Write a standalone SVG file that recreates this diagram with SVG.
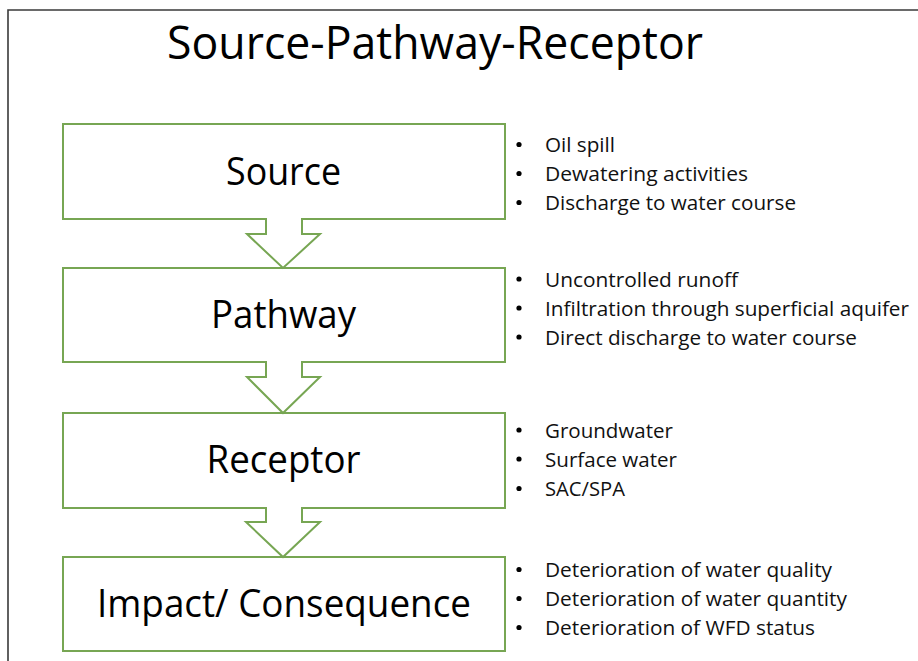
<svg xmlns="http://www.w3.org/2000/svg" width="918" height="661" viewBox="0 0 918 661">
<style>
.frame{fill:none;stroke:#3a3a3a;stroke-width:1.6}
.box{fill:#fff;stroke:#77a653;stroke-width:2}
.arrow{fill:#fff;stroke:#77a653;stroke-width:2;stroke-linejoin:miter}
.title{font-family:"Open Sans","Liberation Sans",sans-serif;font-size:45px;fill:#000}
.label{font-family:"Open Sans","Liberation Sans",sans-serif;font-size:38px;fill:#000;text-anchor:middle}
.item{font-family:"Open Sans","Liberation Sans",sans-serif;font-size:20px;fill:#111}
.dot{fill:#000}
</style>
<rect width="918" height="661" fill="#fff"/>
<path class="frame" d="M8,661 V10 H918"/>
<text class="title" x="167" y="59" textLength="536" lengthAdjust="spacingAndGlyphs">Source-Pathway-Receptor</text>

<g id="source">
<rect class="box" x="63" y="124" width="442" height="95"/>
<text class="label" x="283.5" y="185" textLength="115" lengthAdjust="spacingAndGlyphs">Source</text>
</g>
<g id="pathway">
<rect class="box" x="63" y="268" width="442" height="94"/>
<text class="label" x="283.5" y="328" textLength="145" lengthAdjust="spacingAndGlyphs">Pathway</text>
</g>
<g id="receptor">
<rect class="box" x="63" y="413" width="442" height="95"/>
<text class="label" x="283.5" y="473" textLength="154" lengthAdjust="spacingAndGlyphs">Receptor</text>
</g>
<g id="impact">
<rect class="box" x="63" y="557" width="442" height="94"/>
<text class="label" x="284" y="617" textLength="374" lengthAdjust="spacingAndGlyphs">Impact/ Consequence</text>
</g>

<g id="connectors">
<path class="arrow" d="M266,218 V234 H247 L283,268 L320,234 H302 V218"/>
<path class="arrow" d="M266,361 V377 H247 L283,413 L320,377 H302 V361"/>
<path class="arrow" d="M266,507 V522 H246 L283,557 L320,522 H302 V507"/>
</g>

<g id="source-items">
<circle class="dot" cx="519" cy="144.5" r="2.6"/>
<circle class="dot" cx="519" cy="173.5" r="2.6"/>
<circle class="dot" cx="519" cy="202.5" r="2.6"/>
<text class="item" x="545" y="152" textLength="70" lengthAdjust="spacingAndGlyphs">Oil spill</text>
<text class="item" x="545" y="181" textLength="203" lengthAdjust="spacingAndGlyphs">Dewatering activities</text>
<text class="item" x="545" y="210" textLength="251" lengthAdjust="spacingAndGlyphs">Discharge to water course</text>
</g>
<g id="pathway-items">
<circle class="dot" cx="519" cy="279" r="2.6"/>
<circle class="dot" cx="519" cy="308" r="2.6"/>
<circle class="dot" cx="519" cy="337" r="2.6"/>
<text class="item" x="545" y="286.5" textLength="193" lengthAdjust="spacingAndGlyphs">Uncontrolled runoff</text>
<text class="item" x="545" y="315.5" textLength="364" lengthAdjust="spacingAndGlyphs">Infiltration through superficial aquifer</text>
<text class="item" x="545" y="344.5" textLength="312" lengthAdjust="spacingAndGlyphs">Direct discharge to water course</text>
</g>
<g id="receptor-items">
<circle class="dot" cx="519" cy="430" r="2.6"/>
<circle class="dot" cx="519" cy="459" r="2.6"/>
<circle class="dot" cx="519" cy="488.5" r="2.6"/>
<text class="item" x="545" y="437.5" textLength="128" lengthAdjust="spacingAndGlyphs">Groundwater</text>
<text class="item" x="545" y="466.5" textLength="132" lengthAdjust="spacingAndGlyphs">Surface water</text>
<text class="item" x="545" y="496" textLength="80" lengthAdjust="spacingAndGlyphs">SAC/SPA</text>
</g>
<g id="impact-items">
<circle class="dot" cx="519" cy="569.5" r="2.6"/>
<circle class="dot" cx="519" cy="598.5" r="2.6"/>
<circle class="dot" cx="519" cy="627.5" r="2.6"/>
<text class="item" x="545" y="577" textLength="287" lengthAdjust="spacingAndGlyphs">Deterioration of water quality</text>
<text class="item" x="545" y="606" textLength="302" lengthAdjust="spacingAndGlyphs">Deterioration of water quantity</text>
<text class="item" x="545" y="635" textLength="270" lengthAdjust="spacingAndGlyphs">Deterioration of WFD status</text>
</g>
</svg>
